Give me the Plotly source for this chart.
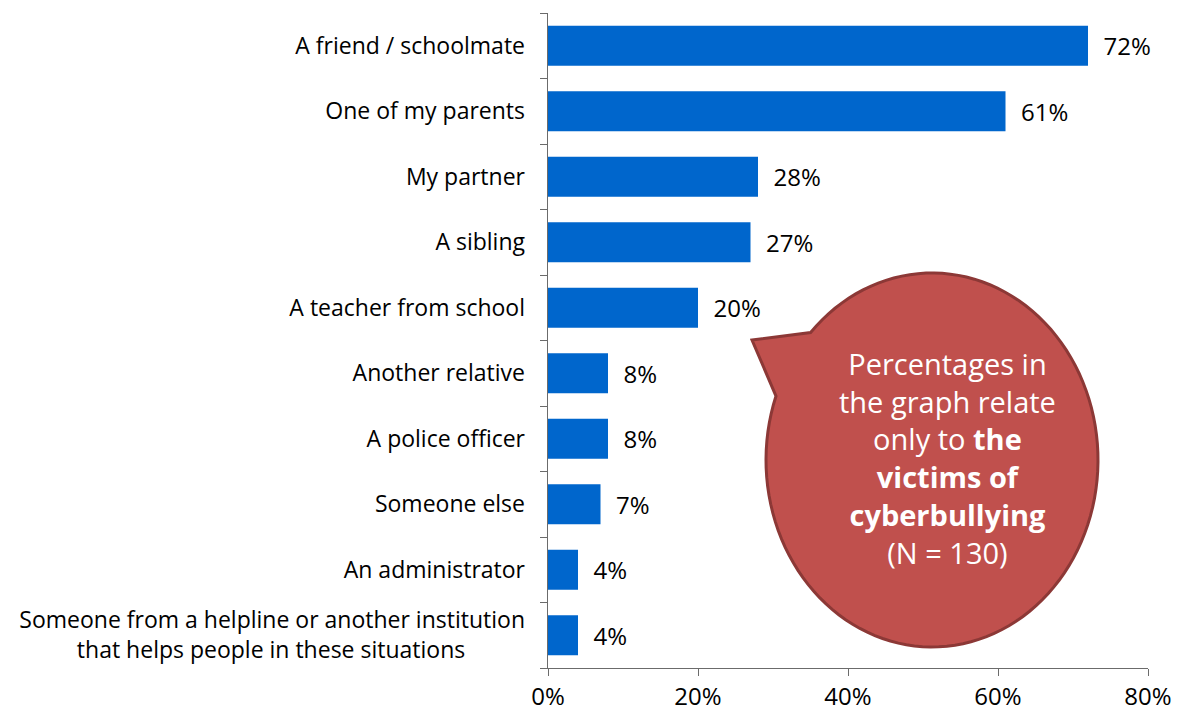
import math
import plotly.graph_objects as go

# Who the victims told about the cyberbullying (share of victims)
categories = [
    "A friend / schoolmate",
    "One of my parents",
    "My partner",
    "A sibling",
    "A teacher from school",
    "Another relative",
    "A police officer",
    "Someone else",
    "An administrator",
    "Someone from a helpline or another institution<br>"
    + "\u00a0" * 10 + "that helps people in these situations" + "\u00a0" * 10,
]
values = [72, 61, 28, 27, 20, 8, 8, 7, 4, 4]
x_ticks = [0, 20, 40, 60, 80]

W, H = 1179, 716
ML, MR, MT, MB = 548, 31, 13, 48
PW, PH = W - ML - MR, H - MT - MB

FONT = "Open Sans"
BAR = "#0066CC"
AXIS = "#6b6b6b"

n = len(categories)

fig = go.Figure()
fig.add_trace(go.Bar(
    y=categories,
    x=values,
    orientation="h",
    marker=dict(color=BAR, line=dict(width=0)),
    text=[f"\u00a0\u00a0{v}%" for v in values],
    textposition="outside",
    textfont=dict(family=FONT, size=24, color="#000000"),
    cliponaxis=False,
    hoverinfo="skip",
))
# invisible companion trace so the second y axis (boundary ticks) is active
fig.add_trace(go.Scatter(x=[None], y=[None], yaxis="y2", showlegend=False,
                         hoverinfo="skip"))


def to_paper(px, py):
    return (px - ML) / PW, (MT + PH - py) / PH


# Speech bubble: ellipse with a pointed tail to the left
cx, cy, rx, ry = 932, 460, 166, 187
tip = (752, 340)
a0, a1 = 223, 560
pts = [tip]
steps = 120
for i in range(steps + 1):
    a = math.radians(a0 + (a1 - a0) * i / steps)
    pts.append((cx + rx * math.cos(a), cy + ry * math.sin(a)))
path = ""
for i, (px, py) in enumerate(pts):
    xp, yp = to_paper(px, py)
    path += ("M" if i == 0 else "L") + f"{xp:.5f},{yp:.5f} "
path += "Z"
fig.add_shape(type="path", path=path, xref="paper", yref="paper",
              fillcolor="#C0504D", line=dict(color="#8C3836", width=3),
              layer="above")

tx, ty = to_paper(947, 458)
fig.add_annotation(
    x=tx, y=ty, xref="paper", yref="paper", showarrow=False,
    text=("Percentages in<br>the graph relate<br>only to <b>the</b><br>"
          "<b>victims of</b><br><b>cyberbullying</b><br>(N = 130)"),
    align="center", xanchor="center", yanchor="middle",
    font=dict(family=FONT, size=29, color="#ffffff"),
)

fig.update_layout(
    width=W, height=H,
    margin=dict(l=ML, r=MR, t=MT, b=MB, autoexpand=False),
    paper_bgcolor="#ffffff", plot_bgcolor="#ffffff",
    showlegend=False,
    bargap=0.39,
    font=dict(family=FONT, size=23, color="#000000"),
    xaxis=dict(
        range=[0, 80], tickvals=x_ticks,
        ticktext=[f"{t}%" for t in x_ticks],
        showgrid=False, zeroline=False, automargin=False,
        showline=True, linecolor=AXIS, linewidth=1,
        ticks="outside", ticklen=7, tickcolor=AXIS,
        tickfont=dict(family=FONT, size=24, color="#000000"),
    ),
    yaxis=dict(
        type="category", categoryorder="array", categoryarray=categories,
        range=[n - 0.5, -0.5], automargin=False,
        showgrid=False, zeroline=False, showline=False,
        ticks="", ticklabelstandoff=22,
        tickfont=dict(family=FONT, size=23, color="#000000"),
    ),
    yaxis2=dict(
        overlaying="y", side="left", anchor="x",
        range=[n - 0.5, -0.5], automargin=False,
        tickvals=[i - 0.5 for i in range(n + 1)],
        showticklabels=False, showgrid=False, zeroline=False,
        showline=True, linecolor=AXIS, linewidth=1,
        ticks="outside", ticklen=7, tickcolor=AXIS,
    ),
)

fig.write_html("out.html")
